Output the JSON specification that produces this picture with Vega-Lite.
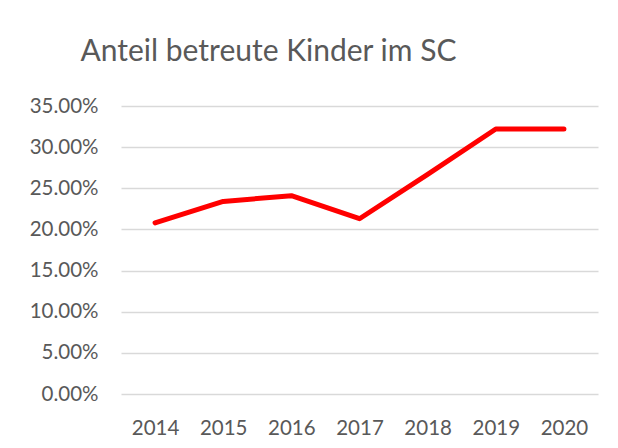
{
  "$schema": "https://vega.github.io/schema/vega-lite/v6.json",
  "autosize": "none",
  "width": 477,
  "height": 288,
  "padding": {"left": 121, "top": 106, "right": 20, "bottom": 54},
  "background": "white",
  "title": {
    "text": "Anteil betreute Kinder im SC",
    "font": "Lato",
    "fontSize": 30,
    "fontWeight": "normal",
    "color": "#595959",
    "anchor": "middle",
    "frame": "group",
    "dx": -91,
    "baseline": "alphabetic",
    "offset": 5
  },
  "data": {
    "values": [
      {"Jahr": "2014", "Anteil": 0.208},
      {"Jahr": "2015", "Anteil": 0.234},
      {"Jahr": "2016", "Anteil": 0.241},
      {"Jahr": "2017", "Anteil": 0.213},
      {"Jahr": "2018", "Anteil": 0.267},
      {"Jahr": "2019", "Anteil": 0.322},
      {"Jahr": "2020", "Anteil": 0.322}
    ]
  },
  "mark": {"type": "line", "color": "#ff0000", "strokeWidth": 5, "strokeCap": "round", "strokeJoin": "round"},
  "encoding": {
    "x": {
      "field": "Jahr",
      "type": "ordinal",
      "scale": {"type": "point", "padding": 0.5},
      "axis": {"title": null, "labelAngle": 0, "domain": false, "ticks": false, "grid": false, "labelFont": "Lato", "labelFontSize": 20.5, "labelColor": "#595959", "labelPadding": 24}
    },
    "y": {
      "field": "Anteil",
      "type": "quantitative",
      "scale": {"domain": [0, 0.35], "nice": false},
      "axis": {"title": null, "values": [0, 0.05, 0.1, 0.15, 0.2, 0.25, 0.3, 0.35], "format": ".2%", "domain": false, "ticks": false, "gridColor": "#d9d9d9", "gridWidth": 1.3, "labelFont": "Lato", "labelFontSize": 20.5, "labelColor": "#595959", "labelPadding": 23}
    }
  },
  "config": {"view": {"stroke": null}}
}
